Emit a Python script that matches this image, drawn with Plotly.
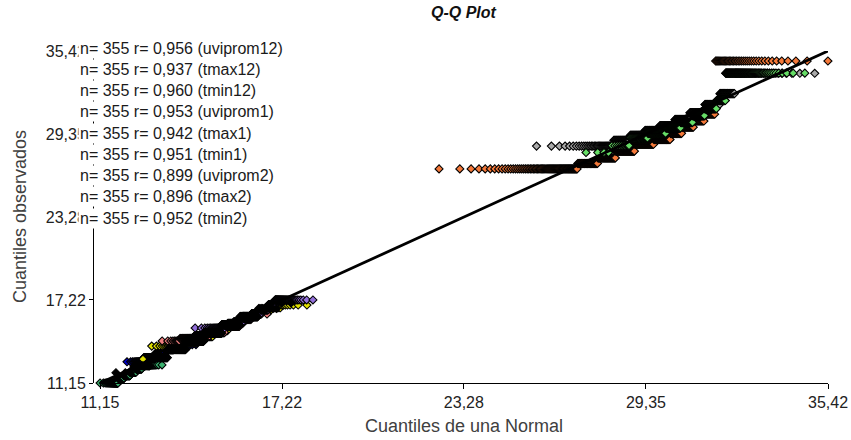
import numpy as np
import plotly.graph_objects as go
from statistics import NormalDist

# ---------------- data ----------------
series_names = ["uviprom12", "tmax12", "tmin12", "uviprom1", "tmax1",
                "tmin1", "uviprom2", "tmax2", "tmin2"]
n_obs = [355, 355, 355, 355, 355, 355, 355, 355, 355]
r_vals = ["0,956", "0,937", "0,960", "0,953", "0,942", "0,951", "0,899", "0,896", "0,952"]
colors = ["#3CB371", "#F5793A", "#0000CD", "#E0E000", "#A9A9A9",
          "#F08080", "#9370DB", "#66DD66", "#000000"]

# mean / sd of each series (for the theoretical normal quantiles)
means = [12.185, 28.935, 13.2, 15.315, 30.34, 14.97, 16.285, 31.0, 14.6]
sds = [0.354, 2.221, 0.394, 0.9366, 1.589, 0.599, 0.673, 1.25, 1.0]

# observed values, run-length encoded (value, count)
levels_uviprom12 = [11.15, 11.5, 11.7, 11.95, 12.2, 12.47]
counts_uviprom12 = [39, 51, 74, 77, 60, 54]
levels_tmax12 = [26.8, 27.2, 27.6, 28.1, 28.6, 28.95, 29.4, 29.85, 30.3, 30.8, 34.69]
counts_tmax12 = [71, 34, 35, 40, 40, 32, 20, 18, 14, 12, 39]
levels_tmin12 = [12.7, 13.0, 13.3, 13.6, 13.95]
counts_tmin12 = [23, 86, 105, 87, 54]
levels_uviprom1 = [12.9, 13.85, 14.1, 14.55, 15.0, 15.5, 16.0, 16.4, 16.65, 16.85]
counts_uviprom1 = [1, 22, 35, 59, 74, 70, 51, 24, 11, 8]
levels_tmax1 = [28.47, 28.9, 29.25, 29.6, 29.95, 30.4, 30.9, 31.5, 32.3, 33.79]
counts_tmax1 = [34, 26, 32, 39, 44, 44, 40, 33, 25, 38]
levels_tmin1 = [14.22, 14.4, 14.6, 14.85, 15.3, 15.8, 16.19]
counts_tmin1 = [9, 38, 91, 114, 74, 22, 7]
levels_uviprom2 = [15.17, 15.4, 15.6, 15.9, 16.2, 16.5, 16.85, 17.22]
counts_uviprom2 = [26, 29, 46, 59, 62, 47, 33, 53]
levels_tmax2 = [28.0, 28.5, 29.05, 29.4, 29.8, 30.2, 30.7, 31.2, 31.8, 33.8]
counts_tmax2 = [4, 10, 22, 40, 47, 44, 45, 41, 27, 75]
levels_tmin2 = [11.9, 12.4, 13.0, 13.6, 14.2, 14.8, 15.4, 16.0, 16.6, 17.0]
counts_tmin2 = [3, 10, 28, 57, 80, 80, 57, 28, 10, 2]

all_levels = [levels_uviprom12, levels_tmax12, levels_tmin12, levels_uviprom1, levels_tmax1,
              levels_tmin1, levels_uviprom2, levels_tmax2, levels_tmin2]
all_counts = [counts_uviprom12, counts_tmax12, counts_tmin12, counts_uviprom1, counts_tmax1,
              counts_tmin1, counts_uviprom2, counts_tmax2, counts_tmin2]

tick_vals = [11.15, 17.22, 23.28, 29.35, 35.42]
tick_text = ["11,15", "17,22", "23,28", "29,35", "35,42"]

# ---------------- Q-Q computation ----------------
nd = NormalDist()


def qq_points(levels, counts, mu, sd):
    obs = np.repeat(np.array(levels, dtype=float), counts)
    n = len(obs)
    p = (np.arange(1, n + 1) - 0.375) / (n + 0.25)
    z = np.array([nd.inv_cdf(float(v)) for v in p])
    return mu + sd * z, obs


fig = go.Figure()
for name, lv, ct, mu, sd, col in zip(series_names, all_levels, all_counts, means, sds, colors):
    xq, yo = qq_points(lv, ct, mu, sd)
    fig.add_trace(go.Scatter(
        x=xq, y=yo, mode="markers", name=name, cliponaxis=False,
        marker=dict(symbol="diamond", size=6.2, color=col,
                    line=dict(color="black", width=1.1)),
        hoverinfo="skip"))

# reference line
fig.add_trace(go.Scatter(x=[tick_vals[0], tick_vals[-1]], y=[tick_vals[0], tick_vals[-1]],
                         mode="lines", line=dict(color="black", width=2.8),
                         hoverinfo="skip", cliponaxis=False))

W, H = 851, 440
L, R, T, B = 93, 23, 51, 57
plot_w = W - L - R
plot_h = H - T - B
x0_px = 100
xdom0 = (x0_px - L) / plot_w

tick_font = dict(family="Liberation Sans, Arial, sans-serif", size=16, color="#222222")

fig.update_layout(
    width=W, height=H,
    margin=dict(l=L, r=R, t=T, b=B, autoexpand=False),
    plot_bgcolor="white", paper_bgcolor="white",
    showlegend=False,
    xaxis=dict(range=[tick_vals[0], tick_vals[-1]], domain=[xdom0, 1], automargin=False,
               tickvals=tick_vals, ticktext=tick_text,
               showline=True, linecolor="black", linewidth=1,
               ticks="outside", ticklen=5, tickcolor="black",
               showgrid=False, zeroline=False, tickfont=tick_font),
    yaxis=dict(range=[tick_vals[0], tick_vals[-1]], anchor="free", position=0, automargin=False,
               tickvals=tick_vals, ticktext=tick_text,
               showline=True, linecolor="black", linewidth=1,
               ticks="outside", ticklen=4, tickcolor="black",
               showgrid=False, zeroline=False, tickfont=tick_font),
)

# chart title
fig.add_annotation(text="<b><i>Q-Q Plot</i></b>", xref="paper", yref="paper",
                   x=xdom0 + (1 - xdom0) / 2, y=(H - B - 12) / plot_h,
                   xanchor="center", yanchor="middle", showarrow=False,
                   font=dict(family="Liberation Sans, Arial, sans-serif", size=16, color="#111111"))

title_font = dict(family="Liberation Sans, Arial, sans-serif", size=18, color="#404040")
# axis titles
fig.add_annotation(text="Cuantiles de una Normal", xref="paper", yref="paper",
                   x=xdom0 + (1 - xdom0) / 2, y=(383 - 426) / plot_h,
                   xanchor="center", yanchor="middle", showarrow=False, font=title_font)
fig.add_annotation(text="Cuantiles observados", xref="paper", yref="paper",
                   x=(20 - L) / plot_w, y=0.5, textangle=-90,
                   xanchor="center", yanchor="middle", showarrow=False, font=title_font)

# legend-like text block (one line per series)
leg_font = dict(family="Liberation Sans, Arial, sans-serif", size=16, color="#1a1a1a")
row0_px, row_step = 48, 21.25
for i, (name, n, r) in enumerate(zip(series_names, n_obs, r_vals)):
    py = row0_px + i * row_step
    fig.add_annotation(text=f"n= {n} r= {r} ({name})", xref="paper", yref="paper",
                       x=(78 - L) / plot_w, y=(H - B - py) / plot_h,
                       xanchor="left", yanchor="middle", showarrow=False,
                       bgcolor="white", borderpad=1, font=leg_font)

fig.write_html("out.html")
